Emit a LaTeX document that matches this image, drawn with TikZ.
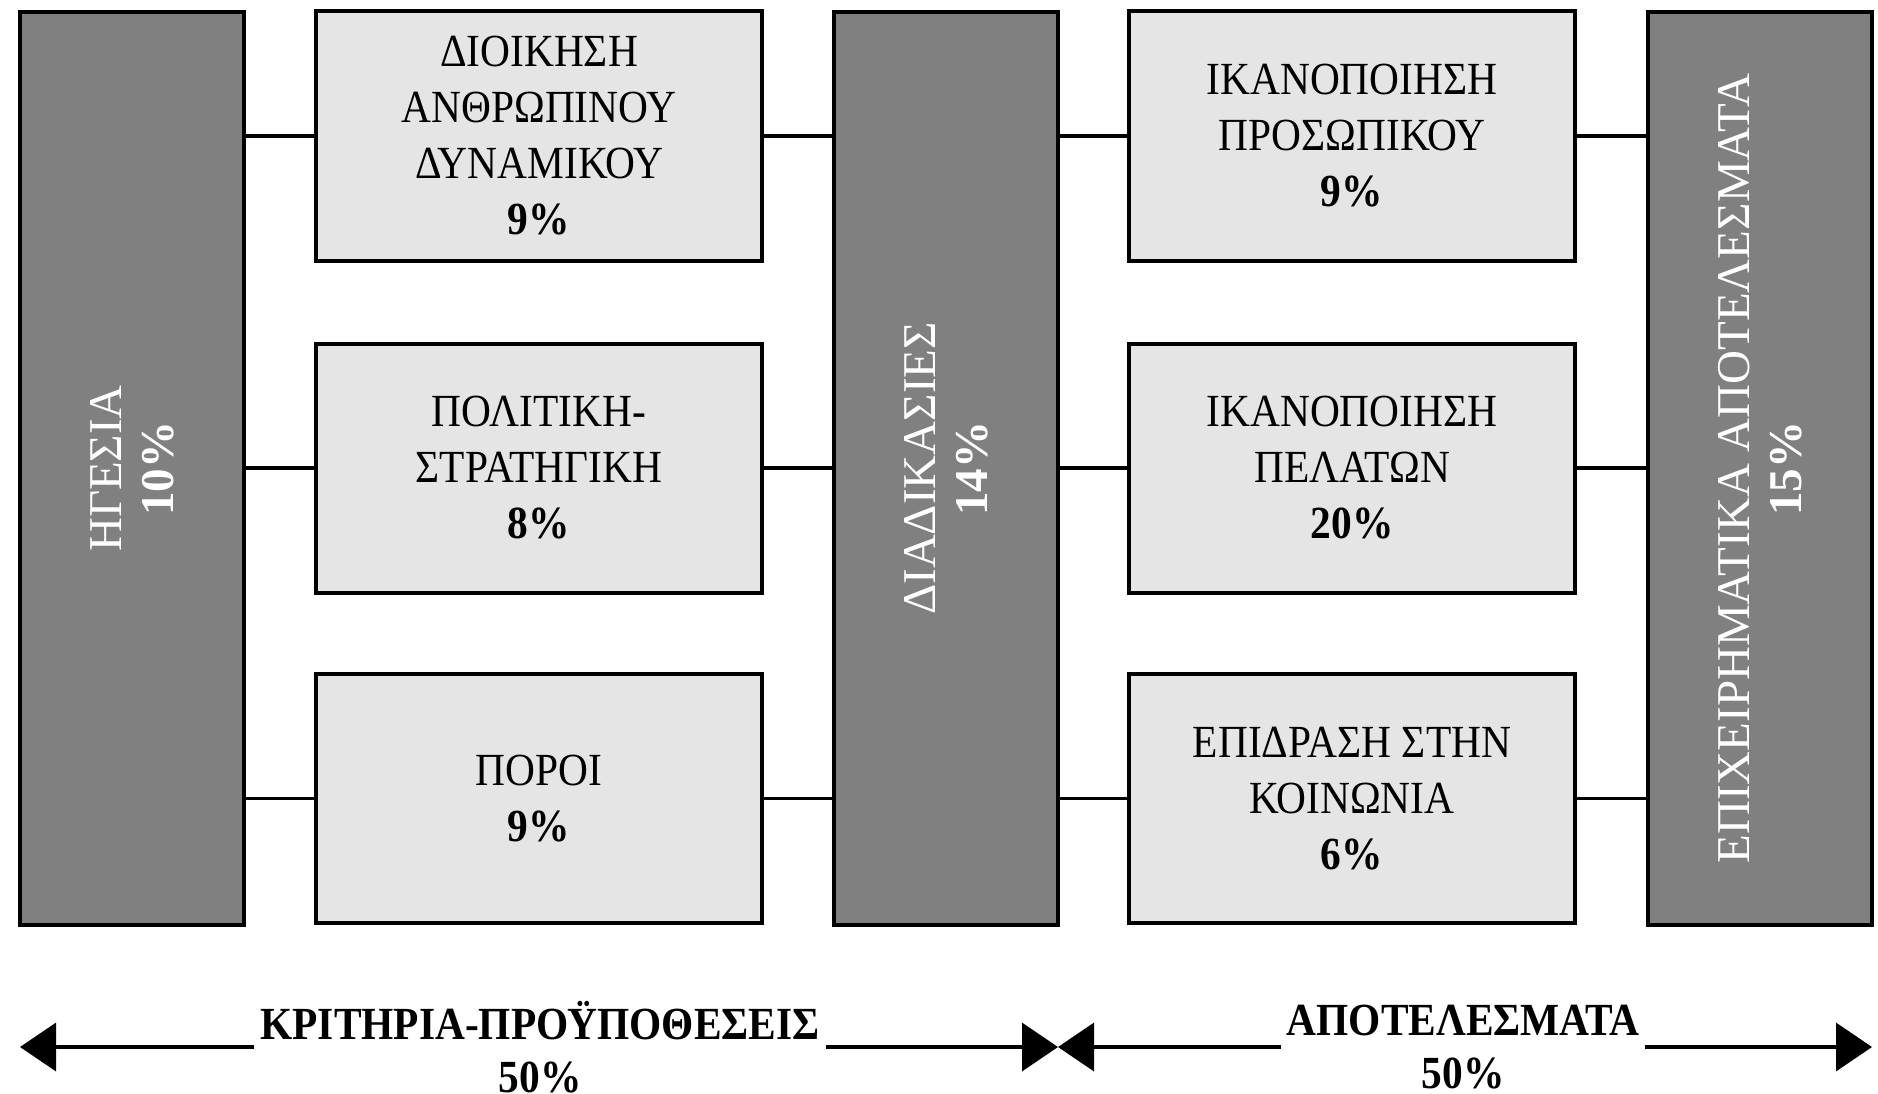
\documentclass[tikz,border=0pt]{standalone}
\usepackage{fontspec}
\setmainfont{Liberation Serif}[FakeStretch=0.9]
\newfontfamily\vfont{Liberation Serif}
\usetikzlibrary{arrows.meta}
\definecolor{darkfill}{RGB}{128,128,128}
\definecolor{lightfill}{RGB}{229,229,229}
\begin{document}
\begin{tikzpicture}[x=1pt,y=-1pt,
  darkbox/.style={draw=black, line width=4pt, fill=darkfill, minimum width=224pt, minimum height=913pt, inner sep=0pt},
  lightbox/.style={draw=black, line width=4pt, fill=lightfill, minimum width=446pt, minimum height=249pt, inner sep=0pt, align=center, font=\fontsize{46}{56}\selectfont},
  vtext/.style={rotate=90, text=white, align=center, inner sep=0pt, font=\vfont\fontsize{47}{52}\selectfont},
  botlabel/.style={align=center, inner xsep=6pt, inner ysep=0pt, font=\bfseries\fontsize{46}{53}\selectfont},
  conn/.style={line width=3.5pt},
  arr/.style={line width=3.5pt, -{Triangle[length=36pt,width=48pt]}}
]
\useasboundingbox (0,0) rectangle (1878,1094);
% dark columns
\node[darkbox] (h) at (132.3,468.5) {};
\node[darkbox] (d) at (946.2,468.5) {};
\node[darkbox] (e) at (1760,468.5) {};
\node[vtext] (ht) at (h.center) {ΗΓΕΣΙΑ\\\textbf{10\%}};
\node[vtext] (dt) at (d.center) {ΔΙΑΔΙΚΑΣΙΕΣ\\\textbf{14\%}};
\node[vtext] (et) at (e.center) {ΕΠΙΧΕΙΡΗΜΑΤΙΚΑ ΑΠΟΤΕΛΕΣΜΑΤΑ\\\textbf{15\%}};
% light boxes
\node[lightbox] (w1) at (539,136) {ΔΙΟΙΚΗΣΗ\\ΑΝΘΡΩΠΙΝΟΥ\\ΔΥΝΑΜΙΚΟΥ\\\textbf{9\%}};
\node[lightbox] (w2) at (539,468) {ΠΟΛΙΤΙΚΗ-\\ΣΤΡΑΤΗΓΙΚΗ\\\textbf{8\%}};
\node[lightbox] (w3) at (539,798.5) {ΠΟΡΟΙ\\\textbf{9\%}};
\node[lightbox] (r1) at (1352,136) {ΙΚΑΝΟΠΟΙΗΣΗ\\ΠΡΟΣΩΠΙΚΟΥ\\\textbf{9\%}};
\node[lightbox] (r2) at (1352,468) {ΙΚΑΝΟΠΟΙΗΣΗ\\ΠΕΛΑΤΩΝ\\\textbf{20\%}};
\node[lightbox] (r3) at (1352,798.5) {ΕΠΙΔΡΑΣΗ ΣΤΗΝ\\ΚΟΙΝΩΝΙΑ\\\textbf{6\%}};
% connectors
\foreach \b in {w1,w2,w3}{
  \draw[conn] (h.east |- \b.west) -- (\b.west);
  \draw[conn] (\b.east) -- (d.west |- \b.east);
}
\foreach \b in {r1,r2,r3}{
  \draw[conn] (d.east |- \b.west) -- (\b.west);
  \draw[conn] (\b.east) -- (e.west |- \b.east);
}
% bottom labels and arrows
\node[botlabel] (la) at (540,1047) {ΚΡΙΤΗΡΙΑ-ΠΡΟΫΠΟΘΕΣΕΙΣ\\50\%};
\node[botlabel] (lb) at (1463,1047) {ΑΠΟΤΕΛΕΣΜΑΤΑ\\50\%};
\coordinate (tipL) at (20,1047);
\coordinate (mid) at (1058,1047);
\coordinate (tipR) at (1872,1047);
\draw[arr] (la.west) -- (tipL);
\draw[arr] (la.east) -- (mid);
\draw[arr] (lb.west) -- (mid);
\draw[arr] (lb.east) -- (tipR);
\end{tikzpicture}
\end{document}
